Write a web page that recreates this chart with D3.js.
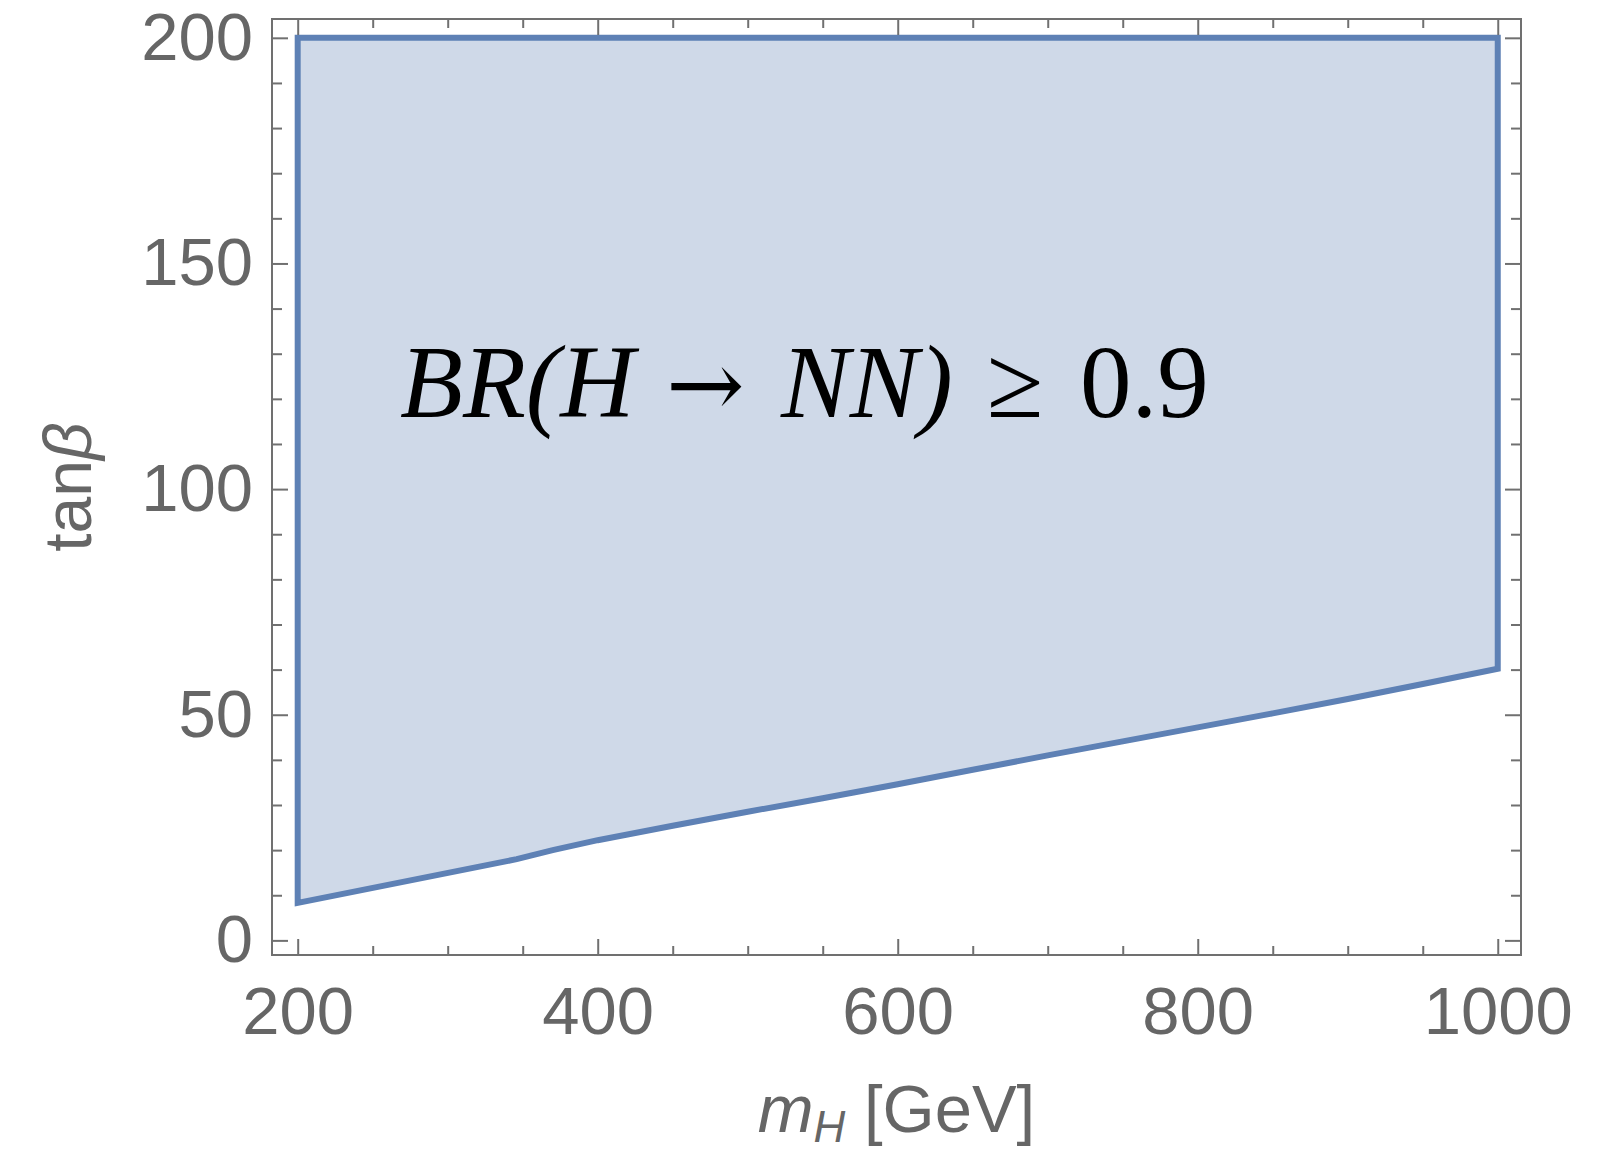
<!DOCTYPE html>
<html>
<head>
<meta charset="utf-8">
<script src="https://cdn.jsdelivr.net/npm/d3@7"></script>
<style>
  body { margin: 0; background: #fff; }
  svg { display: block; }
  .tick text { font-family: "Liberation Sans", Arial, sans-serif; fill: #666; }
</style>
</head>
<body>
<div id="chart"></div>
<script>
// boundary of the region BR(H -> NN) >= 0.9
var mH = [200, 346, 370, 400, 450, 500, 550, 600, 650, 700, 750, 800, 850, 900, 950, 1000];
var tanBetaLow = [8.3, 18.0, 20.0, 22.2, 25.4, 28.5, 31.5, 34.6, 37.8, 41.0, 44.1, 47.2, 50.3, 53.5, 56.8, 60.2];
var tanBetaTop = 200;

var xMajor = [200, 400, 600, 800, 1000];
var xMinor = [250, 300, 350, 450, 500, 550, 650, 700, 750, 850, 900, 950];
var yMajor = [0, 50, 100, 150, 200];
var yMinor = [10, 20, 30, 40, 60, 70, 80, 90, 110, 120, 130, 140, 160, 170, 180, 190];

var svgWidth = 1604, svgHeight = 1152;
var margin = { top: 19, left: 272, right: 83, bottom: 197 };
var width = svgWidth - margin.left - margin.right;
var height = svgHeight - margin.top - margin.bottom;

var svg = d3.select("#chart").append("svg")
    .attr("width", svgWidth)
    .attr("height", svgHeight);

var chartGroup = svg.append("g")
    .attr("transform", `translate(${margin.left}, ${margin.top})`);

var x = d3.scaleLinear().domain([182.87, 1015.5]).range([0, width]);
var y = d3.scaleLinear().domain([-3.24, 204.17]).range([height, 0]);

// region: top edge at 200, lower edge the curve
var lower = mH.map((m, i) => [m, tanBetaLow[i]]);
var poly = [[mH[0], tanBetaTop], [mH[mH.length - 1], tanBetaTop]]
    .concat(lower.slice().reverse());

var line = d3.line()
    .x(d => x(d[0]))
    .y(d => y(d[1]));

chartGroup.append("path")
    .attr("d", line(poly) + "Z")
    .attr("fill", "#cfd9e8")
    .attr("stroke", "#5e81b5")
    .attr("stroke-width", 6)
    .attr("stroke-linejoin", "miter");

// axes - major ticks with labels, minor without, mirrored on top/right
function styleAxis(g) {
    g.select(".domain").remove();
    g.selectAll(".tick line").attr("stroke", "#707070").attr("stroke-width", 2);
    g.selectAll(".tick text").attr("font-size", 67);
}
var fmt = d3.format("d");

chartGroup.append("g")
    .attr("transform", `translate(0, ${height})`)
    .call(d3.axisBottom(x).tickValues(xMajor).tickSizeInner(-16).tickSizeOuter(0).tickPadding(31).tickFormat(fmt))
    .call(styleAxis);
chartGroup.append("g")
    .attr("transform", `translate(0, ${height})`)
    .call(d3.axisBottom(x).tickValues(xMinor).tickSizeInner(-9).tickSizeOuter(0).tickFormat(""))
    .call(styleAxis);
chartGroup.append("g")
    .call(d3.axisTop(x).tickValues(xMajor).tickSizeInner(-16).tickSizeOuter(0).tickFormat(""))
    .call(styleAxis);
chartGroup.append("g")
    .call(d3.axisTop(x).tickValues(xMinor).tickSizeInner(-9).tickSizeOuter(0).tickFormat(""))
    .call(styleAxis);

chartGroup.append("g")
    .call(d3.axisLeft(y).tickValues(yMajor).tickSizeInner(-16).tickSizeOuter(0).tickPadding(19).tickFormat(fmt))
    .call(styleAxis);
chartGroup.append("g")
    .call(d3.axisLeft(y).tickValues(yMinor).tickSizeInner(-10).tickSizeOuter(0).tickFormat(""))
    .call(styleAxis);
chartGroup.append("g")
    .attr("transform", `translate(${width}, 0)`)
    .call(d3.axisRight(y).tickValues(yMajor).tickSizeInner(-16).tickSizeOuter(0).tickFormat(""))
    .call(styleAxis);
chartGroup.append("g")
    .attr("transform", `translate(${width}, 0)`)
    .call(d3.axisRight(y).tickValues(yMinor).tickSizeInner(-10).tickSizeOuter(0).tickFormat(""))
    .call(styleAxis);

// frame
chartGroup.append("rect")
    .attr("width", width)
    .attr("height", height)
    .attr("fill", "none")
    .attr("stroke", "#707070")
    .attr("stroke-width", 2);

// annotation
var note = svg.append("text")
    .attr("y", 417)
    .attr("font-family", "'Liberation Serif', 'Times New Roman', serif")
    .attr("font-size", 103)
    .attr("fill", "#000");
note.append("tspan").attr("x", 400).attr("font-style", "italic").text("BR(H");
note.append("tspan").attr("x", 666).attr("font-family", "'DejaVu Serif', serif").attr("font-size", 94).text("\u2192");
note.append("tspan").attr("x", 781).attr("font-style", "italic").text("NN)");
note.append("tspan").attr("x", 987).text("\u2265");
note.append("tspan").attr("x", 1080).text("0.9");

// axis labels
var xLabel = svg.append("text")
    .attr("x", margin.left + width / 2)
    .attr("y", 1132)
    .attr("text-anchor", "middle")
    .attr("font-family", "'Liberation Sans', Arial, sans-serif")
    .attr("font-size", 67)
    .attr("fill", "#666");
xLabel.append("tspan").attr("font-style", "italic").text("m");
xLabel.append("tspan").attr("font-style", "italic").attr("font-size", 44).attr("dy", 10).text("H");
xLabel.append("tspan").attr("dy", -10).text(" [GeV]");

var yLabel = svg.append("text")
    .attr("transform", "translate(91, 487) rotate(-90)")
    .attr("text-anchor", "middle")
    .attr("font-family", "'Liberation Sans', Arial, sans-serif")
    .attr("font-size", 66)
    .attr("fill", "#666");
yLabel.append("tspan").text("tan");
yLabel.append("tspan").attr("font-style", "italic").text("\u03b2");
</script>
</body>
</html>
